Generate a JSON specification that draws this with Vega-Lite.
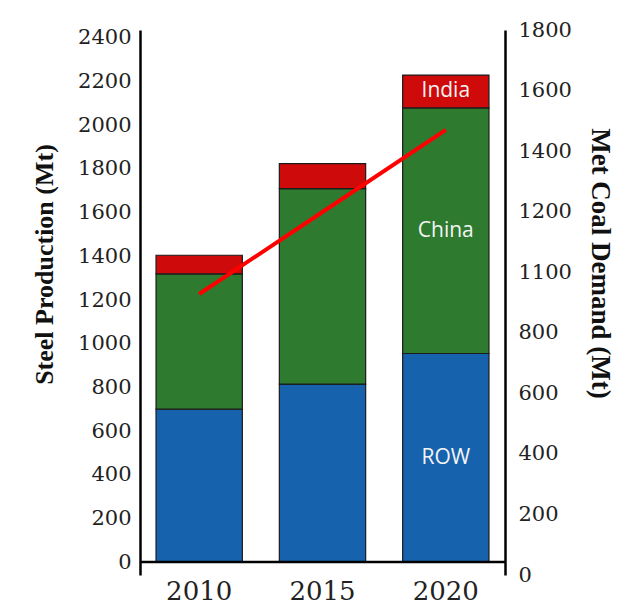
{
  "$schema": "https://vega.github.io/schema/vega-lite/v6.json",
  "autosize": {"type": "none"},
  "width": 365,
  "height": 545,
  "padding": {"left": 140, "top": 30, "right": 120, "bottom": 33},
  "background": "white",
  "config": {"view": {"stroke": null}},
  "datasets": {
    "steel": [
      {"year": "2010", "region": "ROW", "value": 700},
      {"year": "2010", "region": "China", "value": 620},
      {"year": "2010", "region": "India", "value": 85},
      {"year": "2015", "region": "ROW", "value": 815},
      {"year": "2015", "region": "China", "value": 895},
      {"year": "2015", "region": "India", "value": 115},
      {"year": "2020", "region": "ROW", "value": 955},
      {"year": "2020", "region": "China", "value": 1125},
      {"year": "2020", "region": "India", "value": 150}
    ],
    "coal": [
      {"year": "2010", "demand": 928},
      {"year": "2015", "demand": 1199},
      {"year": "2020", "demand": 1470}
    ]
  },
  "layer": [
    {
      "data": {"name": "steel"},
      "layer": [
        {
          "transform": [{"calculate": "indexof(['ROW','China','India'], datum.region)", "as": "ord"}],
          "mark": {"type": "bar", "stroke": "#1b1b1b", "strokeWidth": 1.2},
          "encoding": {
            "x": {
              "field": "year", "type": "nominal",
              "scale": {"paddingInner": 0.3, "paddingOuter": 0.13},
              "axis": {"title": null, "labelAngle": 0, "domain": false, "ticks": false, "labelFont": "DejaVu Serif", "labelFontSize": 26, "labelColor": "#222222", "labelPadding": 3}
            },
            "y": {
              "field": "value", "type": "quantitative", "stack": "zero",
              "title": "Steel Production (Mt)",
              "scale": {"domain": [-59.5, 2436.6], "nice": false, "zero": false},
              "axis": {
                "values": [0, 200, 400, 600, 800, 1000, 1200, 1400, 1600, 1800, 2000, 2200, 2400],
                "format": "d",
                "grid": false, "ticks": false,
                "domainColor": "#000000", "domainWidth": 2.5,
                "labelFont": "DejaVu Serif", "labelFontSize": 21, "labelColor": "#222222", "labelPadding": 9,
                "titleFont": "Liberation Serif", "titleFontWeight": "bold", "titleFontSize": 26, "titleColor": "#111111", "titlePadding": 20,
                "titleY": 234
              }
            },
            "color": {
              "field": "region", "type": "nominal",
              "scale": {"domain": ["ROW", "China", "India"], "range": ["#1762ad", "#2e7b30", "#cf0a0a"]},
              "legend": null
            },
            "order": {"field": "ord"}
          }
        },
        {
          "transform": [
            {"calculate": "indexof(['ROW','China','India'], datum.region)", "as": "ord"},
            {"stack": "value", "groupby": ["year"], "sort": [{"field": "ord", "order": "ascending"}], "as": ["v0", "v1"]},
            {"calculate": "(datum.v0 + datum.v1) / 2", "as": "mid"},
            {"filter": "datum.year == '2020'"}
          ],
          "mark": {"type": "text", "font": "Open Sans", "fontSize": 21, "color": "#f4f4f4", "baseline": "middle"},
          "encoding": {
            "x": {"field": "year", "type": "nominal"},
            "y": {"field": "mid", "type": "quantitative", "title": "Steel Production (Mt)"},
            "text": {"field": "region"}
          }
        },
        {
          "data": {"values": [{"zero": 0}]},
          "mark": {"type": "rule", "color": "#000000", "strokeWidth": 2.5},
          "encoding": {"y": {"field": "zero", "type": "quantitative", "title": "Steel Production (Mt)"}}
        }
      ]
    },
    {
      "data": {"name": "coal"},
      "mark": {"type": "line", "color": "#ff0000", "strokeWidth": 4},
      "encoding": {
        "x": {"field": "year", "type": "nominal"},
        "y": {
          "field": "demand", "type": "quantitative",
          "scale": {"domain": [0, 1800], "nice": false},
          "axis": {
            "orient": "right",
            "title": "Met Coal Demand (Mt)",
            "values": [0, 200, 400, 600, 800, 1000, 1200, 1400, 1600, 1800],
            "format": "d",
            "labelExpr": "datum.value == 1000 ? '1100' : datum.label",
            "grid": false, "ticks": false,
            "domainColor": "#000000", "domainWidth": 2.5,
            "labelFont": "DejaVu Serif", "labelFontSize": 21, "labelColor": "#222222", "labelPadding": 13,
            "titleFont": "Liberation Serif", "titleFontWeight": "bold", "titleFontSize": 27, "titleColor": "#111111", "titlePadding": 14,
            "titleY": 233
          }
        }
      }
    }
  ],
  "resolve": {"scale": {"y": "independent"}}
}
